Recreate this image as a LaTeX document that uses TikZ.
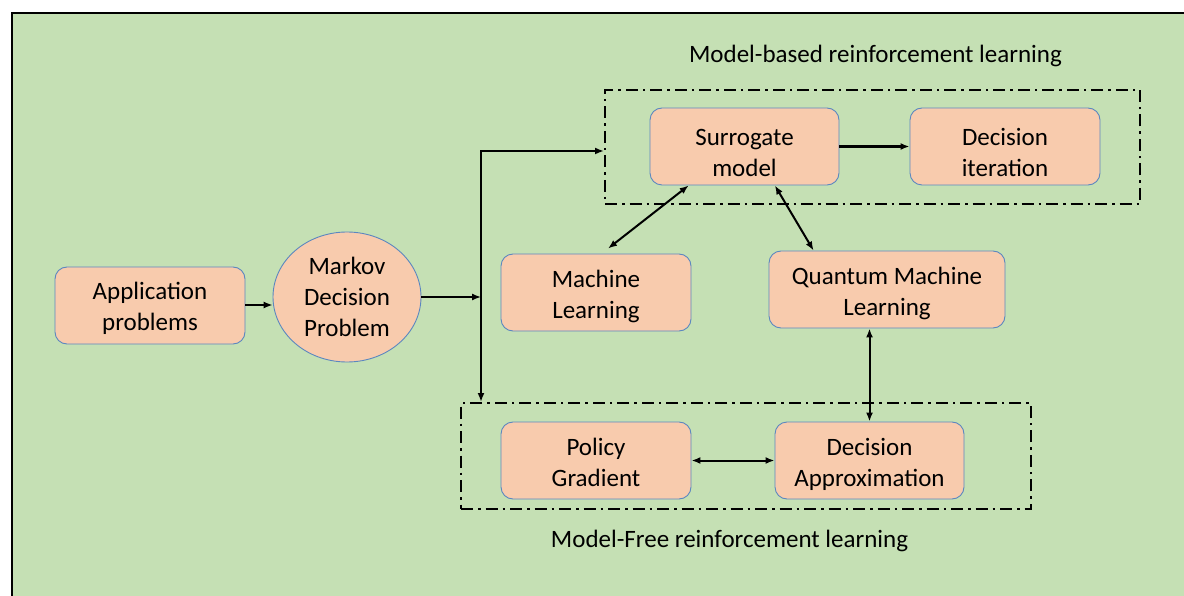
\documentclass[tikz,border=0pt]{standalone}
\usepackage{fontspec}
\setmainfont{Carlito}
\usetikzlibrary{arrows.meta,shapes.geometric,calc}
\definecolor{bggreen}{HTML}{C5E0B4}
\definecolor{boxfill}{HTML}{F8CBAD}
\definecolor{boxline}{HTML}{5B87C0}
\tikzset{
  block/.style={draw=boxline, line width=0.9pt, fill=boxfill, rounded corners=12pt,
    minimum width=190pt, minimum height=77pt, inner sep=0pt},
  txt/.style={align=center, inner sep=0pt},
  oval/.style={ellipse, draw=boxline, line width=0.9pt, fill=boxfill,
    minimum width=148pt, minimum height=130pt, align=center, inner sep=0pt},
  group/.style={draw=black, line width=2pt, dash pattern=on 12pt off 5pt on 2.5pt off 5pt,
    inner sep=0pt},
  link/.style={line width=2pt, -{Latex[length=9pt,width=7pt]}},
  twoway/.style={line width=2pt, {Latex[length=9pt,width=7pt]}-{Latex[length=9pt,width=7pt]}},
  caption/.style={inner sep=0pt}
}
\begin{document}
\begin{tikzpicture}[x=1pt,y=-1pt,
  every node/.append style={font=\fontsize{25}{31}\selectfont}]
  \useasboundingbox (0,0) rectangle (1184,596);
  % page background and frame
  \fill[white] (0,0) rectangle (1184,596);
  \fill[bggreen] (12,13) rectangle (1184,596);
  \draw[line width=1.5pt] (12,596) -- (12,13) -- (1184,13);

  % group frames and their captions
  \node[group, minimum width=535pt, minimum height=114pt] (mb) at (872.5,147) {};
  \node[group, minimum width=570pt, minimum height=106pt] (mf) at (746,456) {};
  \node[caption] (mbcap) at (875.5,56) {Model-based reinforcement learning};
  \node[caption] (mfcap) at (729.5,541) {Model-Free reinforcement learning};

  % blocks (text placed as a centred label so it can sit slightly low)
  \node[block, label={[txt, yshift=-3pt]center:{Application\\problems}}] (app) at (150,305.5) {};
  \node[oval]  (mdp) at (347,297) {Markov\\Decision\\Problem};
  \node[block, minimum width=189pt, label={[txt, yshift=-6pt]center:{Surrogate\\model}}] (sm) at (744.5,146.5) {};
  \node[block, label={[txt, yshift=-6pt]center:{Decision\\iteration}}] (di) at (1005,146.5) {};
  \node[block, label={[txt, yshift=-4pt]center:{Machine\\Learning}}] (ml) at (596,292.5) {};
  \node[block, minimum width=236pt, label={[txt, yshift=-4pt]center:{Quantum Machine\\Learning}}] (qml) at (887,289.5) {};
  \node[block, label={[txt, yshift=-2pt]center:{Policy\\Gradient}}] (pg) at (596,460.5) {};
  \node[block, minimum width=189pt, label={[txt, yshift=-4pt]center:{Decision\\Approximation}}] (da) at (869.5,460.5) {};

  % junction of the branching line
  \coordinate (split) at (481,151);

  % connectors
  \draw[link, line width=1.4pt] (app.east |- 0,305) -- (mdp.west |- 0,305);
  \draw[link, line width=1.4pt] (mdp.east) -- (mdp.east -| split);
  \draw[twoway] ($(mb.west)+(0,4)$) -| (split |- mf.north);
  \draw[link, line width=2.5pt] (sm.east) -- (di.west);
  \draw[twoway] ($(sm.south west)!0.206!(sm.south east)$) -- ($(ml.north west)!0.563!(ml.north east)+(0,-5)$);
  \draw[twoway] ($(sm.south west)!0.66!(sm.south east)$) -- ($(qml.north west)!0.19!(qml.north east)$);
  \draw[twoway] (da.north |- qml.south) -- (da.north);
  \draw[twoway] (pg.east) -- (da.west);
\end{tikzpicture}
\end{document}
